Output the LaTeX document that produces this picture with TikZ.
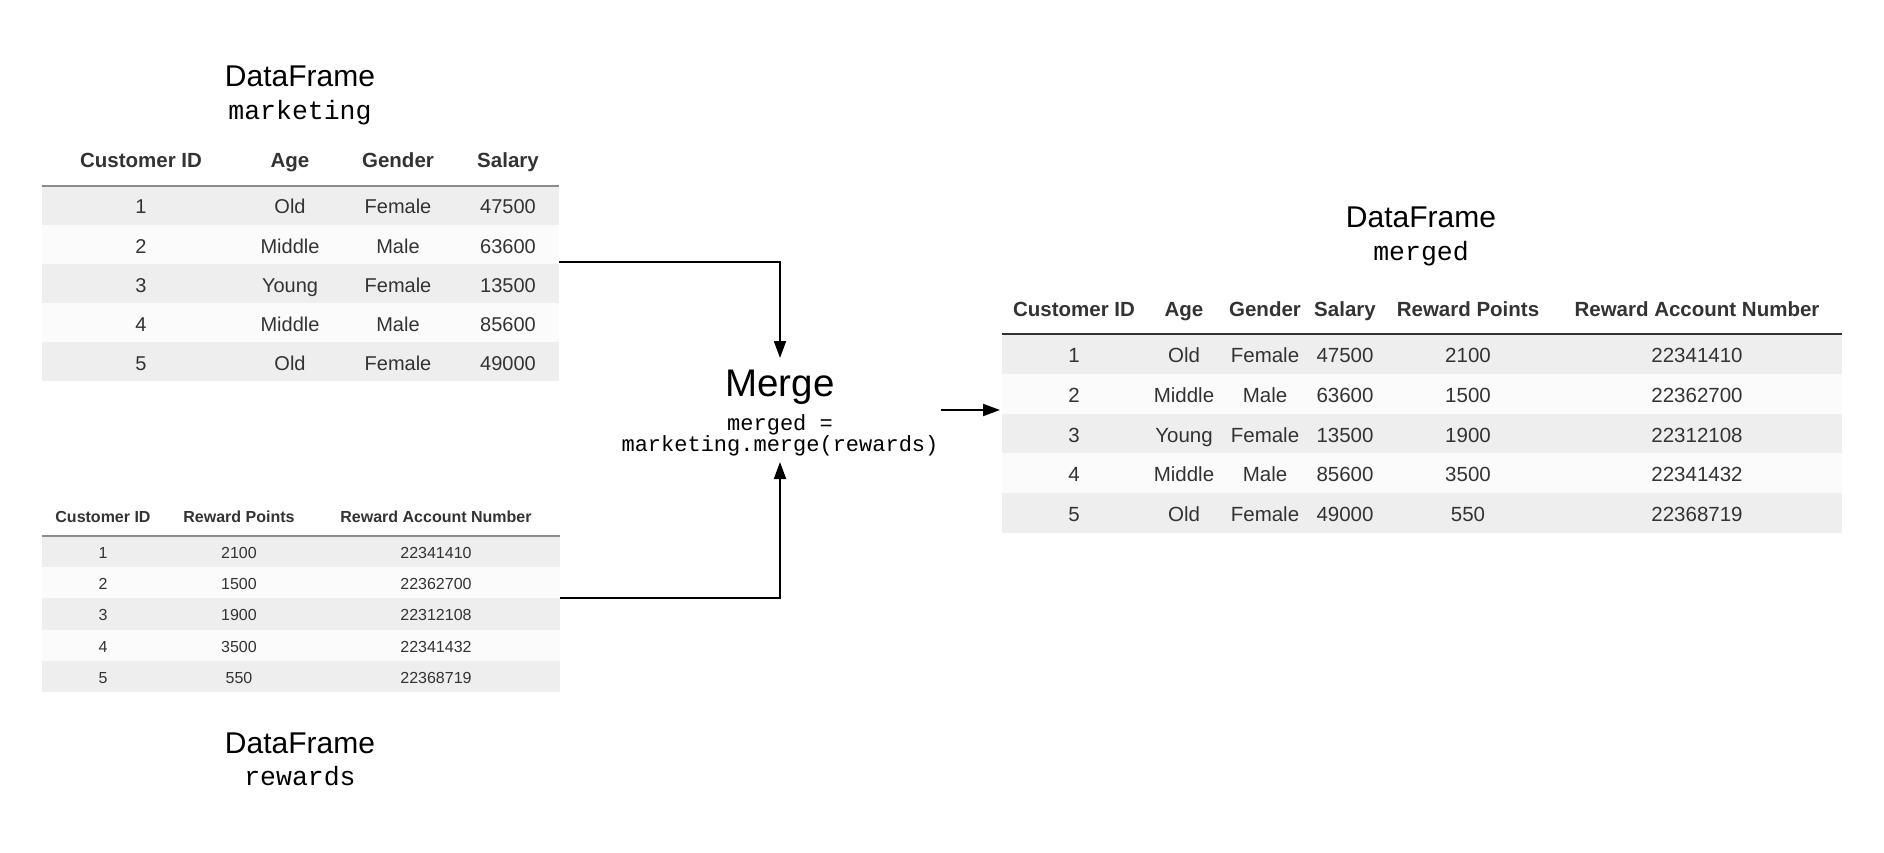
\documentclass[tikz,border=0pt]{standalone}
\usepackage{fontspec}
\setmainfont{Liberation Sans}
\setmonofont{Liberation Mono}
\usetikzlibrary{arrows.meta}
\definecolor{rowA}{HTML}{EEEEEE}
\definecolor{rowB}{HTML}{FBFBFB}
\definecolor{txt}{HTML}{333333}
\definecolor{rulegray}{HTML}{8C8C8C}
\definecolor{ruledark}{HTML}{333333}
\begin{document}
\begin{tikzpicture}[x=1pt,y=-1pt,
  cellbase/.style={anchor=base, inner sep=0pt, text=txt},
  bigbody/.style={cellbase, font=\fontsize{20}{24}\selectfont},
  bighead/.style={cellbase, font=\fontsize{20.5}{24}\selectfont\bfseries},
  smallbody/.style={cellbase, font=\fontsize{16}{19}\selectfont},
  smallhead/.style={cellbase, font=\fontsize{16}{19}\selectfont\bfseries},
  mbody/.style={cellbase, font=\fontsize{20.5}{24}\selectfont},
  mhead/.style={cellbase, font=\fontsize{20.5}{24}\selectfont\bfseries},
  dftitle/.style={anchor=base, inner sep=0pt, font=\fontsize{30}{36}\selectfont},
  dfname/.style={anchor=base, inner sep=0pt, font=\fontsize{26.5}{30}\selectfont\ttfamily},
  arr/.style={line width=2pt, -{Triangle[length=17pt,width=12pt]}},
]
\useasboundingbox (0,0) rectangle (1884,853);

% ---------------- marketing table ----------------
\node[dftitle] (mkt-title) at (300,86.5) {DataFrame};
\node[dfname] (mkt-name) at (300,120) {marketing};
\foreach \i in {1,...,5}{
  \pgfmathsetmacro\ya{186+39*(\i-1)}
  \pgfmathsetmacro\yb{186+39*\i}
  \ifodd\i \def\fc{rowA}\else\def\fc{rowB}\fi
  \fill[\fc] (42,\ya) rectangle (559,\yb);
}
\draw[rulegray, line width=1.3pt] (42,186) -- (559,186);
\node[bighead] (mk-h1) at (141,168) {Customer ID};
\node[bighead] (mk-h2) at (290,168) {Age};
\node[bighead] (mk-h3) at (398,168) {Gender};
\node[bighead] (mk-h4) at (508,168) {Salary};
\foreach \id/\age/\gen/\sal [count=\i] in
  {1/Old/Female/47500, 2/Middle/Male/63600, 3/Young/Female/13500,
   4/Middle/Male/85600, 5/Old/Female/49000}{
  \pgfmathsetmacro\yb{186+39*(\i-0.5)+8.5}
  \node[bigbody] (mk-\i-1) at (141,\yb) {\id};
  \node[bigbody] (mk-\i-2) at (290,\yb) {\age};
  \node[bigbody] (mk-\i-3) at (398,\yb) {\gen};
  \node[bigbody] (mk-\i-4) at (508,\yb) {\sal};
}
\coordinate (mkout) at (559,262);

% ---------------- rewards table ----------------
\foreach \i in {1,...,5}{
  \pgfmathsetmacro\ya{536+31.2*(\i-1)}
  \pgfmathsetmacro\yb{536+31.2*\i}
  \ifodd\i \def\fc{rowA}\else\def\fc{rowB}\fi
  \fill[\fc] (42,\ya) rectangle (560,\yb);
}
\draw[rulegray, line width=1.3pt] (42,536) -- (560,536);
\node[smallhead] (rw-h1) at (103,522) {Customer ID};
\node[smallhead] (rw-h2) at (239,522) {Reward Points};
\node[smallhead] (rw-h3) at (436,522) {Reward Account Number};
\foreach \id/\pts/\acc [count=\i] in
  {1/2100/22341410, 2/1500/22362700, 3/1900/22312108,
   4/3500/22341432, 5/550/22368719}{
  \pgfmathsetmacro\yb{536+31.2*(\i-0.5)+6.8}
  \node[smallbody] (rw-\i-1) at (103,\yb) {\id};
  \node[smallbody] (rw-\i-2) at (239,\yb) {\pts};
  \node[smallbody] (rw-\i-3) at (436,\yb) {\acc};
}
\node[dftitle] (rw-title) at (300,753) {DataFrame};
\node[dfname] (rw-name) at (300,785) {rewards};
\coordinate (rwout) at (560,598);

% ---------------- merge ----------------
\node[anchor=base, inner sep=0pt, font=\fontsize{38.5}{44}\selectfont] (merge) at (780,396.7) {Merge};
\node[anchor=base, inner sep=0pt, font=\fontsize{22}{22}\selectfont\ttfamily] (code1) at (780,430.7) {merged =};
\node[anchor=base, inner sep=0pt, font=\fontsize{22}{22}\selectfont\ttfamily] (code2) at (780,451.7) {marketing.merge(rewards)};
\coordinate (mtop) at (780,358);
\coordinate (mbot) at (780,462);
\coordinate (mright) at (941,410);
\coordinate (mgin) at (1000,410);

\draw[arr] (mkout) -| (mtop);
\draw[arr] (rwout) -| (mbot);
\draw[arr] (mright) -- (mgin);

% ---------------- merged table ----------------
\node[dftitle] (mg-title) at (1421,228) {DataFrame};
\node[dfname] (mg-name) at (1421,260.5) {merged};
\foreach \i in {1,...,5}{
  \pgfmathsetmacro\ya{334+39.8*(\i-1)}
  \pgfmathsetmacro\yb{334+39.8*\i}
  \ifodd\i \def\fc{rowA}\else\def\fc{rowB}\fi
  \fill[\fc] (1002,\ya) rectangle (1842,\yb);
}
\draw[ruledark, line width=1.3pt] (1002,334) -- (1842,334);
\node[mhead] (mg-h1) at (1074,316.5) {Customer ID};
\node[mhead] (mg-h2) at (1184,316.5) {Age};
\node[mhead] (mg-h3) at (1265,316.5) {Gender};
\node[mhead] (mg-h4) at (1345,316.5) {Salary};
\node[mhead] (mg-h5) at (1468,316.5) {Reward Points};
\node[mhead] (mg-h6) at (1697,316.5) {Reward Account Number};
\foreach \id/\age/\gen/\sal/\pts/\acc [count=\i] in
  {1/Old/Female/47500/2100/22341410, 2/Middle/Male/63600/1500/22362700,
   3/Young/Female/13500/1900/22312108, 4/Middle/Male/85600/3500/22341432,
   5/Old/Female/49000/550/22368719}{
  \pgfmathsetmacro\yb{334+39.8*(\i-0.5)+8.5}
  \node[mbody] (mg-\i-1) at (1074,\yb) {\id};
  \node[mbody] (mg-\i-2) at (1184,\yb) {\age};
  \node[mbody] (mg-\i-3) at (1265,\yb) {\gen};
  \node[mbody] (mg-\i-4) at (1345,\yb) {\sal};
  \node[mbody] (mg-\i-5) at (1468,\yb) {\pts};
  \node[mbody] (mg-\i-6) at (1697,\yb) {\acc};
}
\end{tikzpicture}
\end{document}
